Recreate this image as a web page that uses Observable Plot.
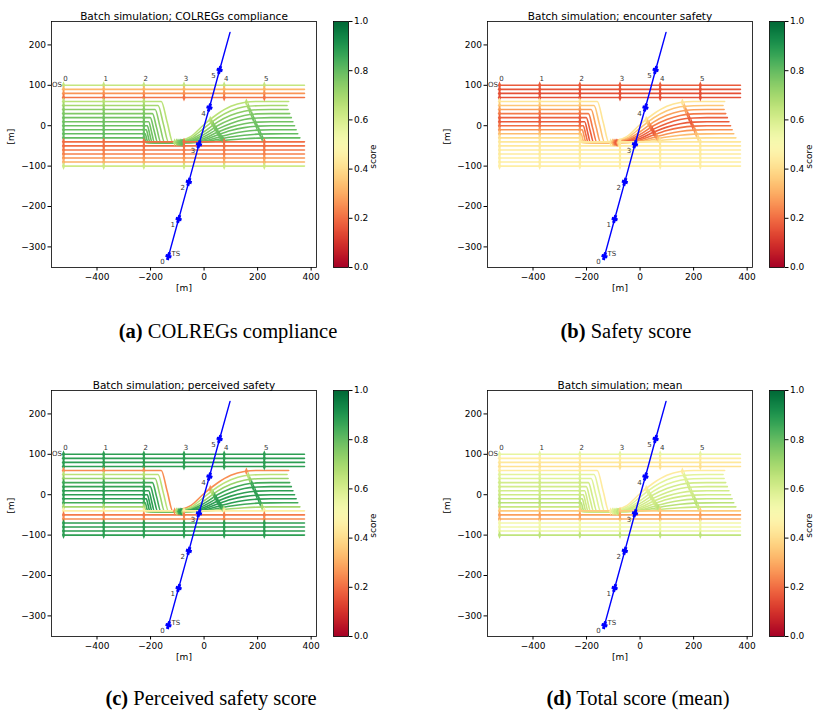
<!DOCTYPE html>
<html>
<head>
<meta charset="utf-8">
<script src="https://cdn.jsdelivr.net/npm/d3@7"></script>
<script src="https://cdn.jsdelivr.net/npm/@observablehq/plot@0.6"></script>
<style>
  body { margin: 0; background: #fff; }
  #fig { position: relative; width: 814px; height: 716px; font-family: "DejaVu Sans", sans-serif; overflow: hidden; }
  #fig svg { position: absolute; }
  .cap { position: absolute; font-family: "Liberation Serif", "Times New Roman", serif; font-size: 20.5px; color: #000; white-space: nowrap; transform: translateX(-50%); }
</style>
</head>
<body>
<div id="fig"></div>
<script>
// Own-ship start offsets (one track per start y), in metres
const startY = [100, 90, 80, 70, 60, 50, 40, 30, 20, 10, 0, -10, -20, -30, -40, -50, -60, -70, -80, -90, -100];
// x position of the time stamps 0..5 on an unmanoeuvred track
const timeX = [-525, -375, -225, -75, 75, 225];
const trackStartX = -525;
const trackEndX = 375;

// Evasive tracks (start y 60 … -30): waypoints [x, y]
const evasiveStartY = [60, 50, 40, 30, 20, 10, 0, -10, -20, -30];
const evasivePaths = [
  [[-525, 60], [-160, 60], [-138, 9], [-116, -42], [-100, -39], [-50, -27], [0, 3], [50, 29], [100, 48], [150, 57.5], [200, 60], [316, 60]],
  [[-525, 50], [-172, 50], [-152, 4], [-132, -42], [-100, -40], [-50, -31], [0, -6], [50, 19], [100, 37], [150, 47], [200, 49.5], [250, 50], [310, 50]],
  [[-525, 40], [-183, 40], [-165, -1], [-147, -42], [-100, -41], [-50, -34], [0, -15], [50, 9], [100, 26], [150, 36], [200, 39.5], [250, 40], [314, 40]],
  [[-525, 30], [-193, 30], [-177, -6], [-161, -42], [-100, -41.5], [-50, -37], [0, -21.5], [50, 0], [100, 15.5], [150, 25.5], [200, 29.3], [250, 30], [320, 30]],
  [[-525, 20], [-201, 20], [-187, -11], [-173, -42], [-100, -41.7], [-50, -38.3], [0, -27], [50, -8.5], [100, 5.7], [150, 15.4], [200, 19.1], [250, 20], [326, 20]],
  [[-525, 10], [-207, 10], [-196, -16], [-185, -42], [-100, -41.8], [-50, -39.7], [0, -31.6], [50, -16], [100, -3.5], [150, 4.8], [200, 9], [250, 10], [332, 10]],
  [[-525, 0], [-212, 0], [-203, -21], [-194, -42], [-100, -42], [-50, -40.7], [0, -35.3], [50, -23], [100, -12], [150, -4.8], [200, -1], [250, 0], [338, 0]],
  [[-525, -10], [-216, -10], [-209, -26], [-202, -42], [-50, -41.2], [0, -37.8], [50, -29.2], [100, -20.6], [150, -14.3], [200, -11], [250, -10], [344, -10]],
  [[-525, -20], [-220, -20], [-215, -31], [-210, -42], [-50, -41.6], [0, -39.8], [50, -34.1], [100, -28.1], [150, -23.5], [200, -20.9], [250, -20.1], [350, -20]],
  [[-525, -30], [-223, -30], [-220, -36], [-217, -42], [-50, -41.9], [0, -40.9], [50, -38], [100, -34.8], [150, -32.2], [200, -30.6], [250, -30.1], [358, -30]]
];
// Positions of the evasive tracks at time stamps 3, 4 and 5
const evasiveT3 = [[-110, -41], [-103, -41], [-98, -41.5], [-94, -41.5], [-90, -41.7], [-87, -41.8], [-85, -42], [-83, -42], [-81, -42], [-79, -42]];
const evasiveT4 = [[23, 15], [29, 8], [35, 2], [40, -4], [46, -10], [51, -16], [57, -22], [62, -27], [68, -32], [73, -36.5]];
const evasiveT5 = [[158, 58], [165, 47.6], [171, 37.6], [178, 27.7], [184, 17.9], [191, 8.2], [197, -1.2], [204, -10.9], [210, -20.7], [217, -30.4]];

// Target ship track, time stamps 0..6
const tsTrack = [[-133, -323], [-95, -231], [-57, -139], [-19, -46], [20, 45], [58, 138], [97, 231]];
const timeLabels = ["0", "1", "2", "3", "4", "5"];

// Scores per own-ship track (same order as startY)
const scoreColregs   = [0.64, 0.32, 0.26, 0.21, 0.66, 0.70, 0.74, 0.76, 0.78, 0.78, 0.79, 0.79, 0.80, 0.80, 0.20, 0.20, 0.22, 0.23, 0.26, 0.31, 0.62];
const scoreSafety    = [0.17, 0.16, 0.15, 0.15, 0.42, 0.35, 0.28, 0.22, 0.18, 0.17, 0.20, 0.26, 0.33, 0.40, 0.43, 0.43, 0.44, 0.44, 0.45, 0.45, 0.45];
const scorePerceived = [0.88, 0.88, 0.88, 0.88, 0.25, 0.66, 0.72, 0.85, 0.87, 0.88, 0.88, 0.88, 0.85, 0.70, 0.45, 0.22, 0.25, 0.88, 0.88, 0.88, 0.88];
const scoreMean      = [0.56, 0.45, 0.43, 0.41, 0.44, 0.57, 0.58, 0.61, 0.61, 0.61, 0.62, 0.64, 0.66, 0.63, 0.36, 0.28, 0.30, 0.52, 0.53, 0.55, 0.65];

const panelTitles = [
  "Batch simulation; COLREGs compliance",
  "Batch simulation; encounter safety",
  "Batch simulation; perceived safety",
  "Batch simulation; mean"
];
const captionTags = ["(a)", "(b)", "(c)", "(d)"];
const captionTexts = ["COLREGs compliance", "Safety score", "Perceived safety score", "Total score (mean)"];

const xTicks = [-400, -200, 0, 200, 400];
const yTicks = [-300, -200, -100, 0, 100, 200];
const cbTicks = [0, 0.2, 0.4, 0.6, 0.8, 1.0];

const numFmt = d3.format("d");
const colorOpts = {type: "linear", scheme: "RdYlGn", domain: [0, 1]};

// Narrow vertical diamond used for the own-ship time stamps
const stampSymbol = {
  draw(ctx, size) {
    const r = Math.sqrt(size / Math.PI);
    ctx.moveTo(0, -r); ctx.lineTo(r * 0.42, 0); ctx.lineTo(0, r); ctx.lineTo(-r * 0.42, 0); ctx.closePath();
  }
};
// Filled plus used for the target-ship time stamps
const plusSymbol = {
  draw(ctx, size) {
    const r = Math.sqrt(size / Math.PI), w = r * 0.38, h = r * 0.75;
    ctx.moveTo(-w, -r); ctx.lineTo(w, -r); ctx.lineTo(w, -w); ctx.lineTo(h, -w); ctx.lineTo(h, w);
    ctx.lineTo(w, w); ctx.lineTo(w, r); ctx.lineTo(-w, r); ctx.lineTo(-w, w); ctx.lineTo(-h, w);
    ctx.lineTo(-h, -w); ctx.lineTo(-w, -w); ctx.closePath();
  }
};

function buildTracks(scores) {
  const pts = [], stamps = [];
  startY.forEach((y0, i) => {
    const k = evasiveStartY.indexOf(y0);
    const path = k >= 0 ? evasivePaths[k] : [[trackStartX, y0], [trackEndX, y0]];
    path.forEach(([x, y]) => pts.push({id: i, x, y, score: scores[i]}));
    timeX.forEach((tx, t) => {
      let p = [tx, y0];
      if (k >= 0 && t === 3) p = evasiveT3[k];
      if (k >= 0 && t === 4) p = evasiveT4[k];
      if (k >= 0 && t === 5) p = evasiveT5[k];
      stamps.push({id: i, x: p[0], y: p[1], score: scores[i]});
    });
  });
  return {pts, stamps};
}

function panel(scores, title) {
  const {pts, stamps} = buildTracks(scores);
  const osLabels = timeX.map((x, t) => ({x, y: startY[0], label: timeLabels[t]}));
  const tsStamps = tsTrack.slice(0, 6).map(([x, y], t) => ({x, y, label: timeLabels[t]}));
  return Plot.plot({
    width: 325, height: 300,
    marginLeft: 51, marginRight: 9, marginTop: 21, marginBottom: 33,
    x: {domain: [-570, 420]},
    y: {domain: [-351, 258]},
    color: colorOpts,
    style: {fontFamily: "DejaVu Sans, sans-serif", fontSize: "9px", color: "#000", background: "transparent", overflow: "visible"},
    marks: [
      Plot.line(pts, {x: "x", y: "y", z: "id", stroke: "score", curve: "monotone-x", strokeWidth: 1.6}),
      Plot.dot(stamps, {x: "x", y: "y", fill: "score", symbol: stampSymbol, r: 4}),
      Plot.line(tsTrack, {x: d => d[0], y: d => d[1], stroke: "#0000ff", strokeWidth: 1.4}),
      Plot.dot(tsStamps, {x: "x", y: "y", fill: "#0000ff", symbol: plusSymbol, r: 4, rotate: 16}),
      Plot.text(tsStamps, {x: "x", y: "y", text: "label", dx: -6, dy: 6, fontSize: 7, fill: "#333"}),
      Plot.text(tsStamps.slice(0, 1), {x: "x", y: "y", text: () => "TS", dx: 3, dy: -2, textAnchor: "start", fontSize: 7, fill: "#333"}),
      Plot.text(osLabels.slice(0, 1), {x: "x", y: "y", text: () => "OS", dx: -1.5, dy: -1, textAnchor: "end", fontSize: 7, fill: "#333"}),
      Plot.text(osLabels, {x: "x", y: "y", text: "label", dx: 2, dy: -6.5, fontSize: 7, fill: "#333"}),
      Plot.frame({stroke: "#000", strokeWidth: 0.8}),
      Plot.axisX({ticks: xTicks, tickFormat: numFmt, tickSize: 3.5, tickPadding: 3, label: null}),
      Plot.axisY({ticks: yTicks, tickFormat: numFmt, tickSize: 3.5, tickPadding: 2, label: null}),
      Plot.text([title], {frameAnchor: "top", dy: -9, fontSize: 10.5}),
      Plot.text(["[m]"], {frameAnchor: "bottom", dy: 23, fontSize: 9}),
      Plot.text(["[m]"], {frameAnchor: "left", dx: -40, rotate: -90, fontSize: 9})
    ]
  });
}

function colorbar() {
  return Plot.plot({
    width: 80, height: 300,
    marginLeft: 8, marginRight: 57, marginTop: 21, marginBottom: 33,
    x: {domain: [0, 1], axis: null},
    y: {domain: [0, 1]},
    color: colorOpts,
    style: {fontFamily: "DejaVu Sans, sans-serif", fontSize: "9px", color: "#000", background: "transparent", overflow: "visible"},
    marks: [
      Plot.raster({x1: 0, x2: 1, y1: 0, y2: 1, width: 1, height: 256, fill: (x, y) => y, imageRendering: "auto"}),
      Plot.frame({stroke: "#000", strokeWidth: 0.8}),
      Plot.axisY({anchor: "right", ticks: cbTicks, tickFormat: d3.format(".1f"), tickSize: 3.5, tickPadding: 2, label: null}),
      Plot.text(["score"], {frameAnchor: "right", dx: 25, rotate: -90, fontSize: 9})
    ]
  });
}

const fig = document.getElementById("fig");
const panelScores = [scoreColregs, scoreSafety, scorePerceived, scoreMean];
const panelLeft = [0, 436, 0, 436];
const panelTop = [0, 0, 368.5, 368.5];
const captionCenter = [228, 626, 211, 638];
const captionTop = [320, 320, 687, 687];

panelScores.forEach((scores, i) => {
  const svg = panel(scores, panelTitles[i]);
  svg.style.left = panelLeft[i] + "px";
  svg.style.top = panelTop[i] + "px";
  fig.appendChild(svg);
  const cb = colorbar();
  cb.style.left = (panelLeft[i] + 325) + "px";
  cb.style.top = panelTop[i] + "px";
  fig.appendChild(cb);
  const cap = document.createElement("div");
  cap.className = "cap";
  cap.style.left = captionCenter[i] + "px";
  cap.style.top = captionTop[i] + "px";
  cap.innerHTML = "<b>" + captionTags[i] + "</b> " + captionTexts[i];
  fig.appendChild(cap);
});
</script>
</body>
</html>
